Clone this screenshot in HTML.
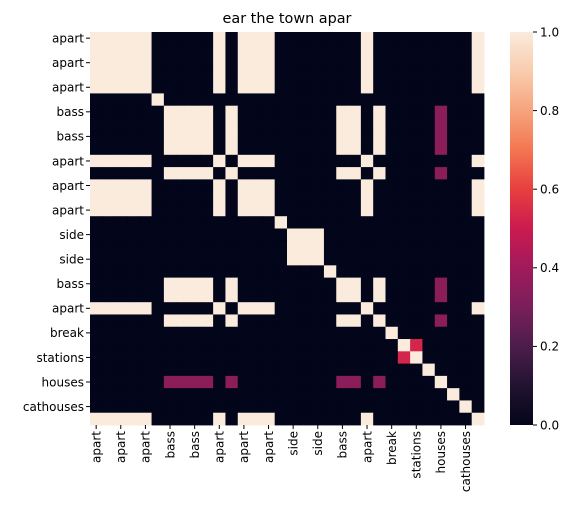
<!DOCTYPE html>
<html><head><meta charset="utf-8"><style>
body{margin:0;background:#fff}
svg text{font-family:"DejaVu Sans","Liberation Sans",sans-serif;fill:#000}
</style></head><body>
<svg id="chart" width="570" height="516" viewBox="0 0 570 516" xmlns="http://www.w3.org/2000/svg">
<defs><linearGradient id="rocket" x1="0" y1="1" x2="0" y2="0">
<stop offset="0" stop-color="#03051a"/><stop offset="0.1" stop-color="#221331"/><stop offset="0.2" stop-color="#4c1d4b"/><stop offset="0.3" stop-color="#7a1f5a"/><stop offset="0.4" stop-color="#a11a5b"/><stop offset="0.5" stop-color="#cb1b4f"/><stop offset="0.6" stop-color="#e83f3f"/><stop offset="0.7" stop-color="#f37651"/><stop offset="0.8" stop-color="#f6a47c"/><stop offset="0.9" stop-color="#f8ccad"/><stop offset="1" stop-color="#faebdd"/>
</linearGradient></defs>
<text x="287" y="23" text-anchor="middle" font-size="14.4">ear the town apar</text>
<g id="cells"></g><g id="ylabels"></g><g id="xlabels"></g>
<rect x="510" y="32" width="23" height="393" fill="url(#rocket)"/>
<g id="cbticks"></g>
</svg>
<script>
const tokens = ["apart","apart","apart","apart","apart","u5","bass","bass","bass","bass","apart","bass","apart","apart","apart","u15","side","side","side","u19","bass","bass","apart","bass","break","u25","stations","u27","houses","u29","cathouses","apart"];
const groups = ["A","A","A","A","A","u5","B","B","B","B","A","B","A","A","A","u15","S","S","S","u19","B","B","A","B","break","u25","stations","u27","houses","u29","cathouses","A"];
const pairValues = [["B","houses",0.34],["u25","stations",0.53]];
const cbTicks = [0.0,0.2,0.4,0.6,0.8,1.0];
const stops=[[3,5,26],[34,19,49],[76,29,75],[122,31,90],[161,26,91],[203,27,79],[232,63,63],[243,118,81],[246,164,124],[248,204,173],[250,235,221]];
function cmap(v){v=Math.max(0,Math.min(1,v))*10;const i=Math.min(9,Math.floor(v)),f=v-i;const a=stops[i],b=stops[i+1];return `rgb(${a.map((c,k)=>Math.round(c+(b[k]-c)*f)).join(',')})`;}
function sim(i,j){const a=groups[i],b=groups[j];if(a===b)return 1;for(const p of pairValues){if((p[0]===a&&p[1]===b)||(p[0]===b&&p[1]===a))return p[2];}return 0;}
const X0=90,Y0=32,W=394,H=393,n=tokens.length,cw=W/n,ch=H/n;
const xs=j=>X0+j*cw, ys=i=>Y0+i*ch;
const NS="http://www.w3.org/2000/svg";
const cells=document.getElementById('cells');
for(let i=0;i<n;i++)for(let j=0;j<n;j++){const r=document.createElementNS(NS,'rect');
r.setAttribute('x',xs(j));r.setAttribute('y',ys(i));r.setAttribute('width',cw+0.4);r.setAttribute('height',ch+0.4);r.setAttribute('fill',cmap(sim(i,j)));


cells.appendChild(r);}
const yl=document.getElementById('ylabels'),xl=document.getElementById('xlabels');
for(let i=0;i<n;i+=2){const y=ys(i)+ch/2;
const t=document.createElementNS(NS,'line');t.setAttribute('x1',X0-4);t.setAttribute('x2',X0);t.setAttribute('y1',y);t.setAttribute('y2',y);t.setAttribute('stroke','#000');yl.appendChild(t);
const tx=document.createElementNS(NS,'text');tx.setAttribute('x',X0-6);tx.setAttribute('y',y+4.3);tx.setAttribute('text-anchor','end');tx.setAttribute('font-size','12');tx.textContent=tokens[i];


yl.appendChild(tx);
const x=xs(i)+cw/2;
const t2=document.createElementNS(NS,'line');t2.setAttribute('x1',x);t2.setAttribute('x2',x);t2.setAttribute('y1',Y0+H);t2.setAttribute('y2',Y0+H+4);t2.setAttribute('stroke','#000');xl.appendChild(t2);
const tx2=document.createElementNS(NS,'text');tx2.setAttribute('transform',`translate(${x+4.3},${Y0+H+6}) rotate(-90)`);tx2.setAttribute('text-anchor','end');tx2.setAttribute('font-size','12');tx2.textContent=tokens[i];


xl.appendChild(tx2);}
const cb=document.getElementById('cbticks');
for(const v of cbTicks){const y=425-v*393;
const l=document.createElementNS(NS,'line');l.setAttribute('x1',533);l.setAttribute('x2',537);l.setAttribute('y1',y);l.setAttribute('y2',y);l.setAttribute('stroke','#000');cb.appendChild(l);
const t=document.createElementNS(NS,'text');t.setAttribute('x',540);t.setAttribute('y',y+4.3);t.setAttribute('font-size','12');t.textContent=v.toFixed(1);


cb.appendChild(t);}
</script>
</body></html>
